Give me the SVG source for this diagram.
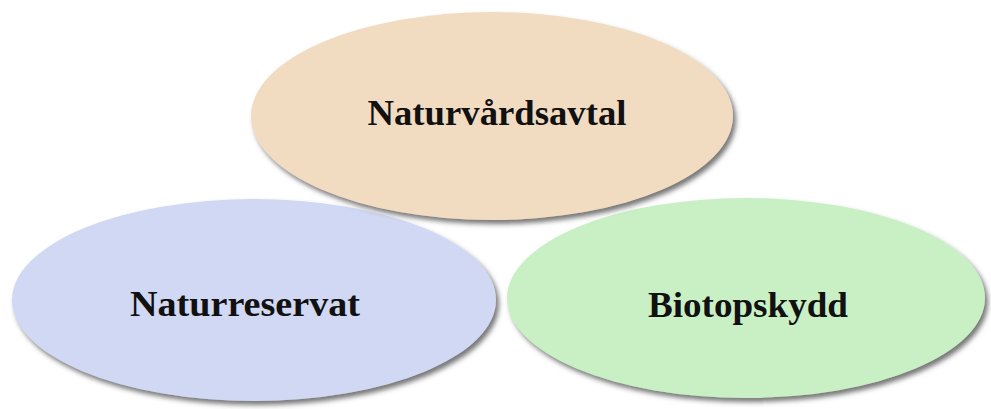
<svg xmlns="http://www.w3.org/2000/svg" width="991" height="409" viewBox="0 0 991 409">
  <defs>
    <filter id="sh" x="-10%" y="-10%" width="125%" height="130%">
      <feDropShadow dx="3" dy="4" stdDeviation="2.5" flood-color="#4a4a4a" flood-opacity="0.75"/>
    </filter>
  </defs>
  <style>
    .node ellipse { filter: url(#sh); }
    .lbl { font-family: "Liberation Serif", "Times New Roman", serif; font-weight: bold; font-size: 36px; fill: #111; text-anchor: middle; }
  </style>
  <rect width="991" height="409" fill="#ffffff"/>
  <g id="connectors"></g>
  <g id="naturreservat" class="node">
    <ellipse cx="254" cy="300" rx="242" ry="101" fill="#d1d8f3"/>
    <text class="lbl" x="245" y="316" textLength="230" lengthAdjust="spacingAndGlyphs">Naturreservat</text>
  </g>
  <g id="biotopskydd" class="node">
    <ellipse cx="746" cy="298" rx="239" ry="100" fill="#c9f0c4"/>
    <text class="lbl" x="748" y="317" textLength="200" lengthAdjust="spacingAndGlyphs">Biotopskydd</text>
  </g>
  <g id="naturvardsavtal" class="node">
    <ellipse cx="492" cy="116" rx="241" ry="104" fill="#f1dcc2"/>
    <text class="lbl" x="497" y="125" textLength="259" lengthAdjust="spacingAndGlyphs">Naturvårdsavtal</text>
  </g>
</svg>
